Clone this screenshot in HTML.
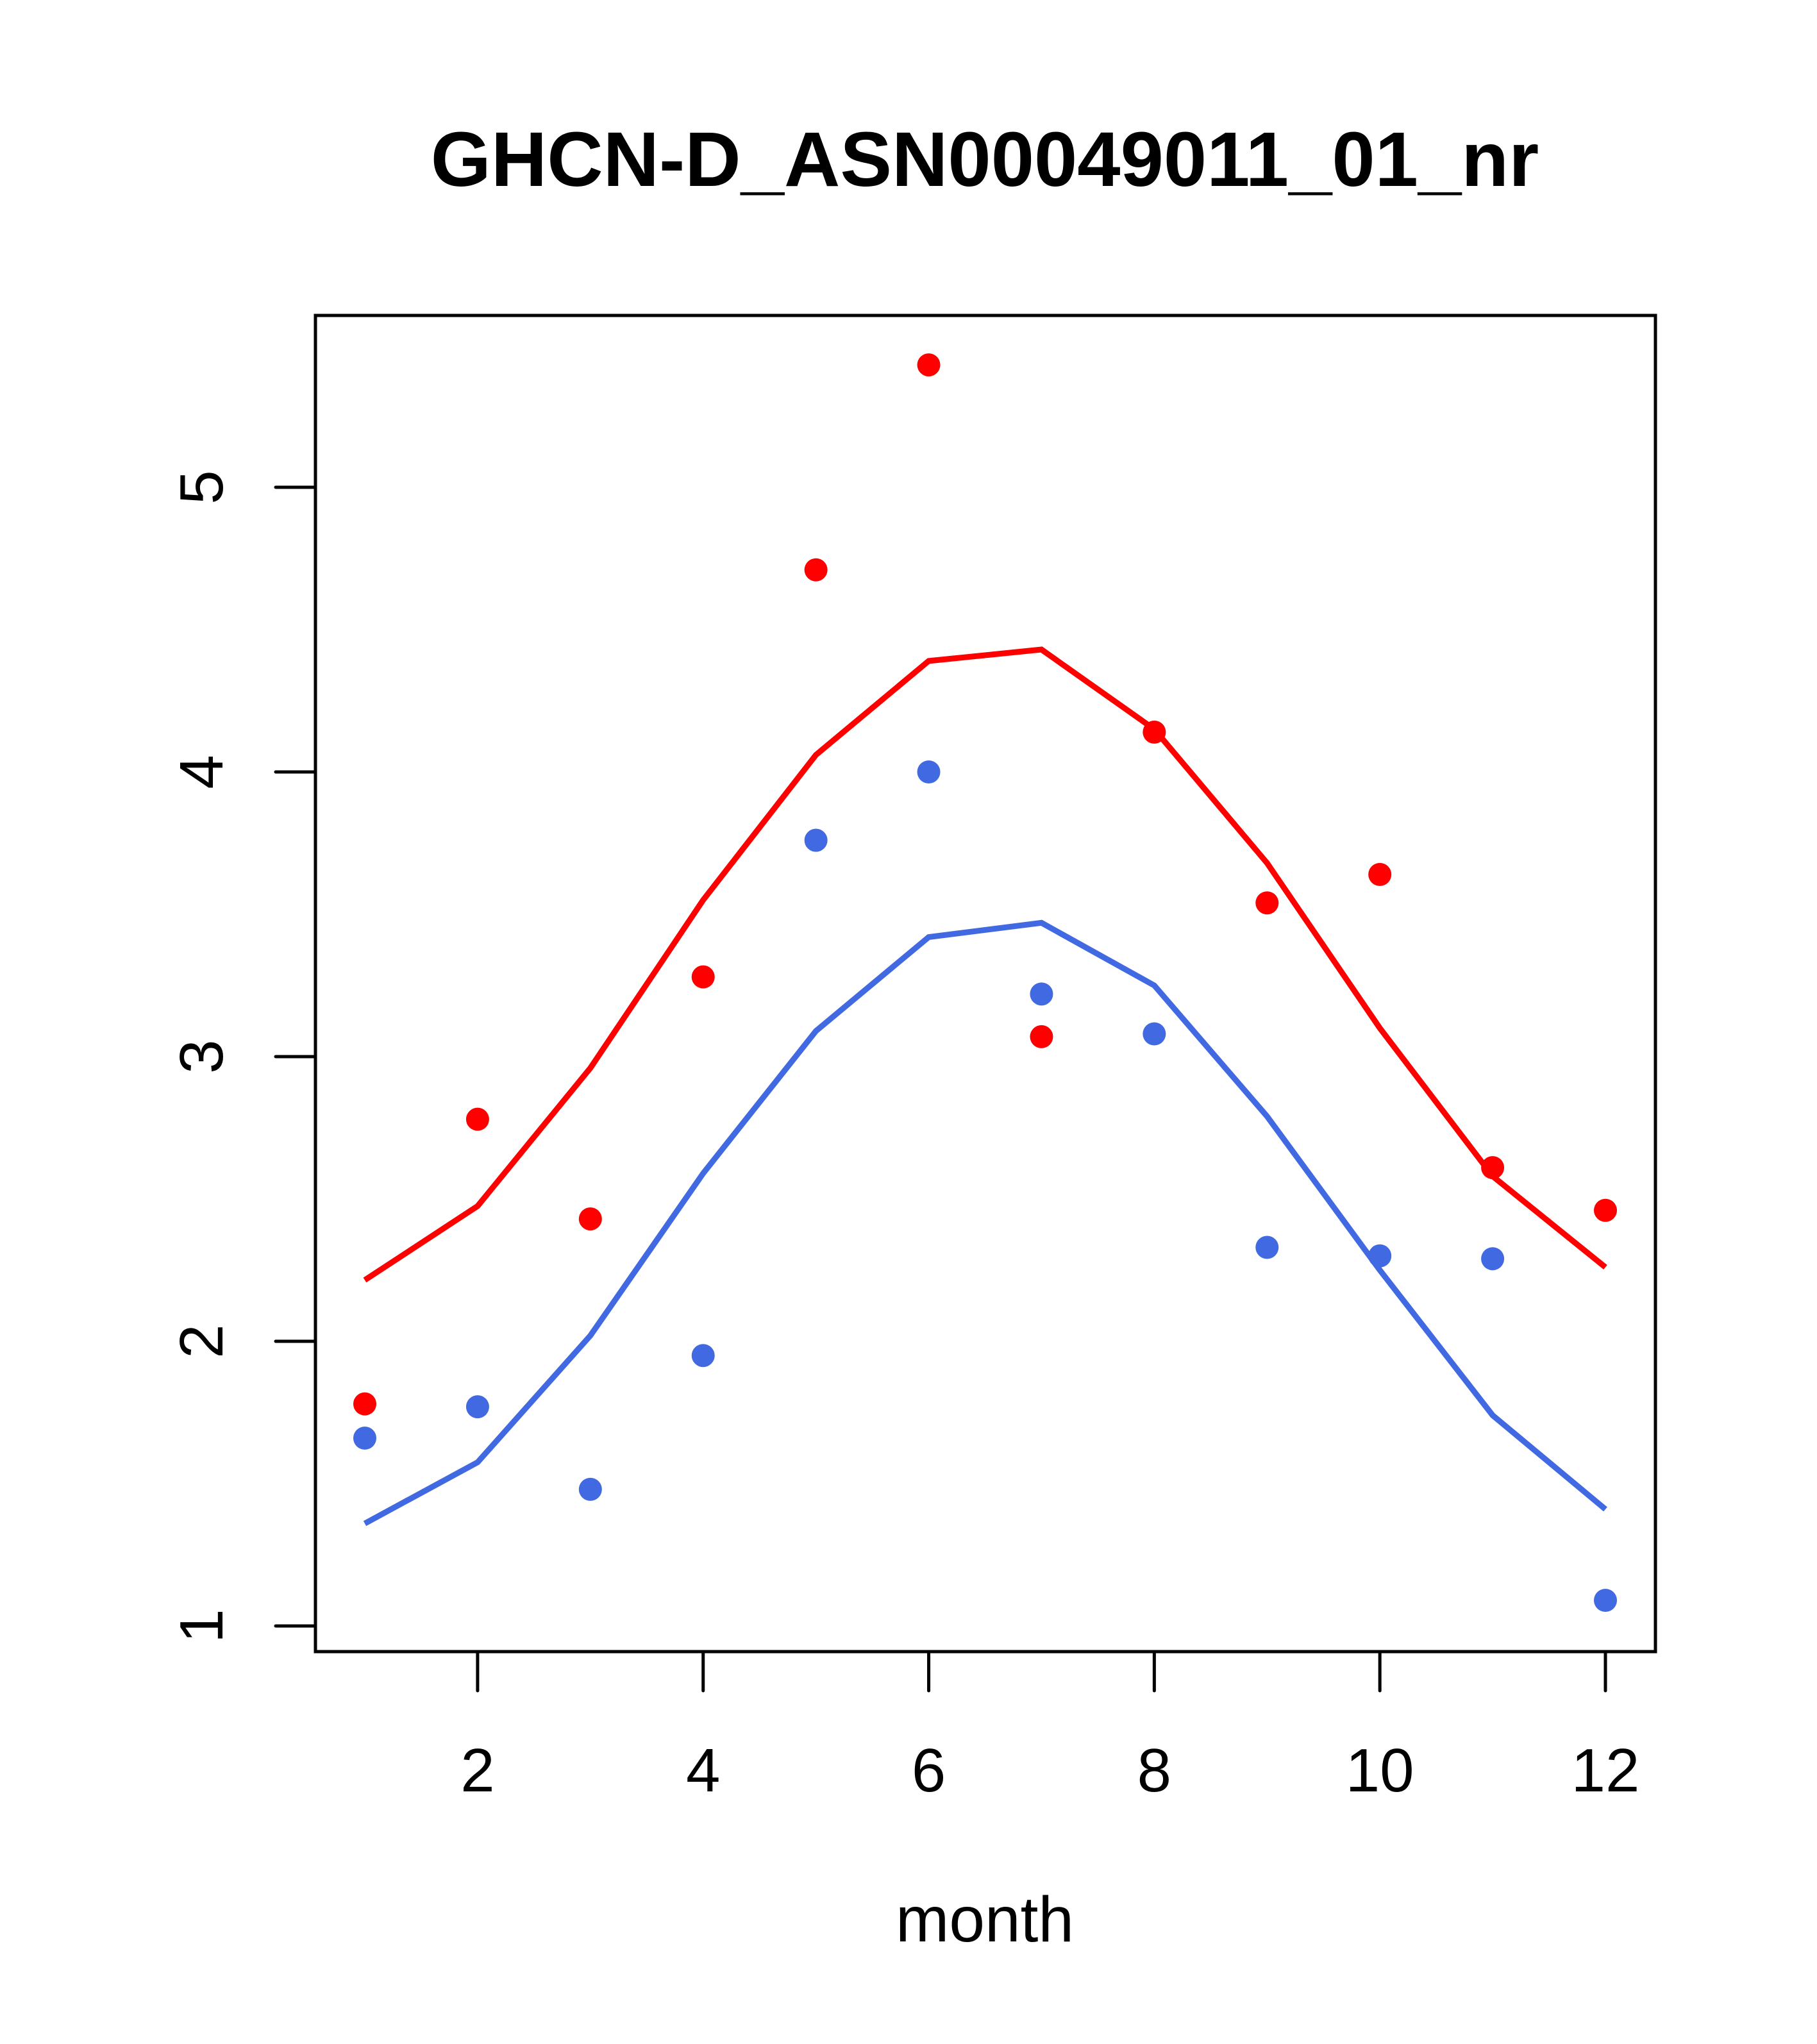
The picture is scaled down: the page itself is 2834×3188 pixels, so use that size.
<!DOCTYPE html>
<html><head><meta charset="utf-8"><style>
html,body{margin:0;padding:0;background:#fff;}
svg{display:block;font-family:"Liberation Sans",Arial,sans-serif;}
</style></head><body>
<svg id="chart" width="2834" height="3188" viewBox="0 0 2834 3188">
<text x="1536" y="290" font-size="121" font-weight="bold" text-anchor="middle">GHCN-D_ASN00049011_01_nr</text>
<rect x="492" y="492" width="2090" height="2084" fill="none" stroke="#000" stroke-width="5"/>
<g id="axes"></g>
<g id="series"></g>
<text x="1536" y="3028" font-size="100" text-anchor="middle">month</text>
</svg>
<script>
const months = [1,2,3,4,5,6,7,8,9,10,11,12];
const redPoints = [1.78,2.78,2.43,3.28,4.71,5.43,3.07,4.14,3.54,3.64,2.61,2.46];
const bluePoints = [1.66,1.77,1.48,1.95,3.76,4.00,3.22,3.08,2.33,2.30,2.29,1.09];
const redLine = [2.215,2.475,2.96,3.55,4.06,4.39,4.43,4.15,3.68,3.10,2.58,2.26];
const blueLine = [1.36,1.575,2.02,2.59,3.09,3.42,3.47,3.25,2.79,2.25,1.74,1.41];
const xTicks = [2,4,6,8,10,12];
const yTicks = [1,2,3,4,5];

const NS = "http://www.w3.org/2000/svg";
function xs(m){ return 569 + (m-1)*(2504-569)/11; }
function ys(v){ return 760 + (5-v)*(2536-760)/4; }
const axes = document.getElementById('axes');
const series = document.getElementById('series');
function mk(tag, attrs, parent){
  const e = document.createElementNS(NS, tag);
  for (const k in attrs) e.setAttribute(k, attrs[k]);
  parent.appendChild(e);
  return e;
}
xTicks.forEach(t => {
  const l = mk('line', {x1:xs(t), x2:xs(t), y1:2576, y2:2637, stroke:'#000', 'stroke-width':5, 'stroke-linecap':'round'}, axes);
  
  
  const tx = mk('text', {x:xs(t), y:2794, 'font-size':96, 'text-anchor':'middle'}, axes);
  tx.textContent = t;
  
  
});
yTicks.forEach(t => {
  const l = mk('line', {x1:430, x2:492, y1:ys(t), y2:ys(t), stroke:'#000', 'stroke-width':5, 'stroke-linecap':'round'}, axes);
  
  
  const tx = mk('text', {x:0, y:0, 'font-size':96, 'text-anchor':'middle', transform:'translate(347,'+ys(t)+') rotate(-90)'}, axes);
  tx.textContent = t;
  
  
});
function line(vals, color, name){
  const p = mk('polyline', {points: vals.map((v,i)=>xs(months[i])+','+ys(v)).join(' '), fill:'none', stroke:color, 'stroke-width':9}, series);
  
  
}
function pts(vals, color, name){
  vals.forEach((v,i) => {
    const c = mk('circle', {cx:xs(months[i]), cy:ys(v), r:18, fill:color}, series);
    
    
  });
}
line(redLine, '#ff0000', 'red-line');
line(blueLine, '#4169e1', 'blue-line');
pts(redPoints, '#ff0000', 'red-point');
pts(bluePoints, '#4169e1', 'blue-point');
</script>
</body></html>
